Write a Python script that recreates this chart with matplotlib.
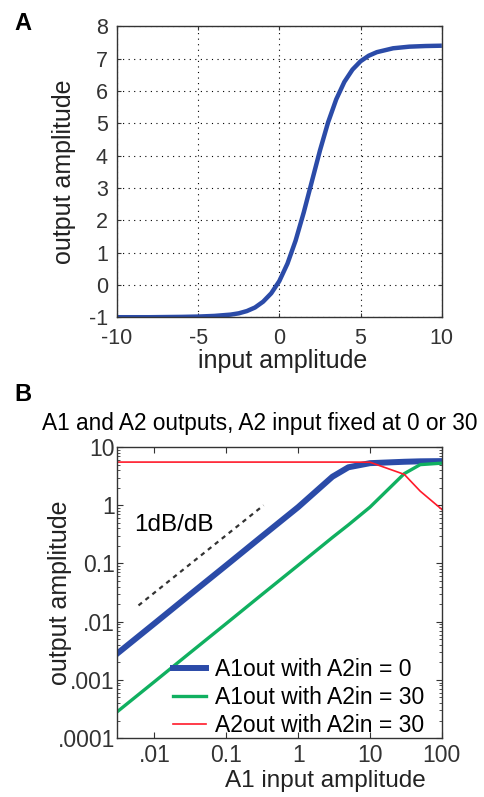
import matplotlib
matplotlib.use("Agg")
import matplotlib.pyplot as plt
import numpy as np
from matplotlib.ticker import NullFormatter, LogLocator

plt.rcParams['font.family'] = ['Liberation Sans', 'DejaVu Sans']
plt.rcParams['axes.unicode_minus'] = False

# Panel A data (sigmoid)
a_x = [-10, -8, -6, -5, -4, -3, -2.5, -2, -1.5, -1, -0.5, 0, 0.5, 1, 1.5, 2,
       2.5, 3, 3.5, 4, 4.5, 5, 5.5, 6, 7, 8, 9, 10]
a_y = [-1.0, -1.0, -0.99, -0.98, -0.96, -0.92, -0.88, -0.81, -0.70, -0.52, -0.26,
       0.12, 0.66, 1.37, 2.24, 3.2, 4.16, 5.03, 5.74, 6.28, 6.66, 6.92, 7.09, 7.2,
       7.32, 7.37, 7.39, 7.4]

# Panel B data
b_x = [0.003, 0.01, 0.03, 0.1, 0.3, 1, 3, 5, 10, 30, 50, 100]
a1_a2in0 = [0.0028, 0.0093, 0.028, 0.093, 0.28, 0.93, 3.1, 4.5, 5.3, 5.6, 5.7, 5.75]
a1_a2in30 = [0.00028, 0.00093, 0.0028, 0.0093, 0.028, 0.093, 0.28, 0.46, 0.93, 3.5, 5.0, 5.3]
a2_a2in30 = [5.53, 5.53, 5.53, 5.53, 5.53, 5.53, 5.53, 5.53, 5.5, 3.4, 1.75, 0.85]
ref_x = [0.006, 0.33]
ref_y = [0.019, 1.0]

BLUE = '#2b4ba8'
GREEN = '#10b060'
RED = '#ff1a2a'
TICKC = '#333333'

fig = plt.figure(figsize=(4.85, 7.97), dpi=100)

# ---------- Panel A ----------
axA = fig.add_axes([0.241, 0.602, 0.670, 0.365])
axA.plot(a_x, a_y, color=BLUE, lw=3.2, solid_capstyle='butt')
axA.set_xlim(-10, 10)
axA.set_ylim(-1, 8)
axA.set_xticks([-10, -5, 0, 5, 10])
axA.set_yticks(list(range(-1, 9)))
axA.grid(True, color='black', linestyle=(0, (1, 4)), lw=0.8)
axA.tick_params(direction='in', length=3, labelsize=15.5, labelcolor=TICKC,
                colors=TICKC, pad=6.5, top=True, right=True)
axA.tick_params(axis='x', pad=7.5)
for s in axA.spines.values():
    s.set_color('#333333')
    s.set_linewidth(1.0)
axA.set_xlabel('input amplitude', fontsize=18, color='#222222')
axA.set_ylabel('output amplitude', fontsize=18, color='#222222')
axA.xaxis.set_label_coords(0.51, -0.11)
axA.yaxis.set_label_coords(-0.126, 0.5)
fig.text(0.03, 0.971, 'A', fontsize=17, fontweight='bold', ha='left', va='center')

# ---------- Panel B ----------
axB = fig.add_axes([0.241, 0.074, 0.670, 0.365])
axB.set_xscale('log')
axB.set_yscale('log')
axB.plot(ref_x, ref_y, color='#333333', lw=1.6, linestyle=(0, (2, 2)))
l1, = axB.plot(b_x, a1_a2in0, color=BLUE, lw=4.3, label='A1out with A2in = 0')
l2, = axB.plot(b_x, a1_a2in30, color=GREEN, lw=2.4, label='A1out with A2in = 30')
l3, = axB.plot(b_x, a2_a2in30, color=RED, lw=1.2, label='A2out with A2in = 30')
axB.set_xlim(0.003, 100)
axB.set_ylim(0.0001, 10)
axB.set_xticks([0.01, 0.1, 1, 10, 100])
axB.set_xticklabels(['.01', '0.1', '1', '10', '100'])
axB.set_yticks([0.0001, 0.001, 0.01, 0.1, 1, 10])
axB.set_yticklabels(['.0001', '.001', '.01', '0.1', '1', '10'])
axB.xaxis.set_minor_locator(LogLocator(base=10, subs=np.arange(2, 10)))
axB.yaxis.set_minor_locator(LogLocator(base=10, subs=np.arange(2, 10)))
axB.xaxis.set_minor_formatter(NullFormatter())
axB.yaxis.set_minor_formatter(NullFormatter())
axB.tick_params(which='major', direction='in', length=4, labelsize=16.5,
                labelcolor=TICKC, colors=TICKC, pad=1.5, top=True, right=True)
axB.tick_params(which='minor', direction='in', length=2, colors=TICKC,
                top=True, right=True)
axB.tick_params(axis='x', which='major', pad=4)
for s in axB.spines.values():
    s.set_color('#333333')
    s.set_linewidth(1.0)
axB.set_xlabel('A1 input amplitude', fontsize=17.5, color='#222222')
axB.xaxis.label.set_va('center')
axB.set_ylabel('output amplitude', fontsize=18, color='#222222')
axB.xaxis.set_label_coords(0.643, -0.148)
axB.yaxis.set_label_coords(-0.138, 0.5)
axB.text(0.0052, 0.45, '1dB/dB', fontsize=17.5, ha='left', va='center')
leg = axB.legend(handles=[l1, l2, l3], loc='upper left',
                 bbox_to_anchor=(0.172, 0.275), frameon=False, fontsize=16.5,
                 handlelength=1.45, handletextpad=0.4, labelspacing=0.22,
                 borderpad=0, borderaxespad=0)
fig.text(0.03, 0.505, 'B', fontsize=17, fontweight='bold', ha='left', va='center')
fig.text(0.536, 0.469, 'A1 and A2 outputs, A2 input fixed at 0 or 30',
         fontsize=16.3, ha='center', va='center')

fig.savefig('out.png', dpi=100)
